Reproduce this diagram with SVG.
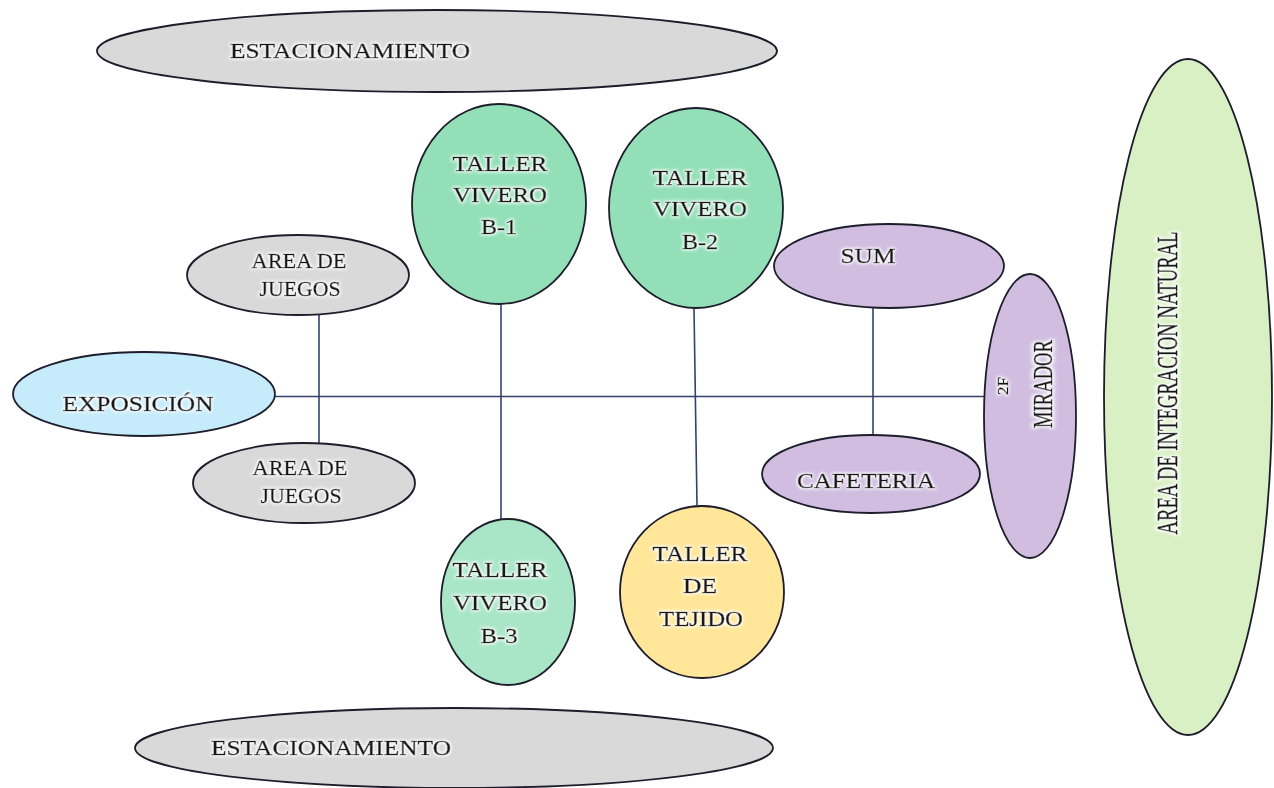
<svg xmlns="http://www.w3.org/2000/svg" width="1274" height="788" viewBox="0 0 1274 788">
<defs>
<style>
.n{stroke:#1d1d2b;stroke-width:1.8}
.gray{fill:#d9d9d9}
.blue{fill:#c6ebfa}
.green{fill:#93e0b8}
.green2{fill:#a9e6c8}
.yellow{fill:#ffe699}
.purple{fill:#d0bde0}
.lgreen{fill:#d8f0c4}
.t{font-family:"Liberation Serif","Times New Roman",serif;font-size:22px;fill:#161616;stroke:#161616;stroke-width:0.5;text-anchor:middle;filter:url(#glow)}
.r{font-size:19px}
.s{font-size:16px}
.c{stroke:#34416b;stroke-width:1.6;fill:none}
</style>
<filter id="glow" x="-20%" y="-30%" width="140%" height="160%">
<feMorphology in="SourceAlpha" operator="dilate" radius="1.2" result="d"/>
<feGaussianBlur in="d" stdDeviation="1.4" result="b"/>
<feFlood flood-color="#ffffff"/>
<feComposite in2="b" operator="in" result="g"/>
<feMerge><feMergeNode in="g"/><feMergeNode in="SourceGraphic"/></feMerge>
</filter>
</defs>
<rect width="1274" height="788" fill="#ffffff"/>
<g id="connectors">
<line class="c" x1="274" y1="396.5" x2="988" y2="396.5"/>
<line class="c" x1="319" y1="314" x2="319" y2="443"/>
<line class="c" x1="501" y1="304" x2="501" y2="519"/>
<line class="c" x1="694" y1="308" x2="697" y2="505"/>
<line class="c" x1="873" y1="308" x2="873" y2="436"/>
</g>
<g id="estacionamiento-top">
<ellipse class="n gray" cx="437" cy="51" rx="340" ry="41"/>
<text class="t" x="350" y="58" textLength="240" lengthAdjust="spacingAndGlyphs">ESTACIONAMIENTO</text>
</g>
<g id="estacionamiento-bottom">
<ellipse class="n gray" cx="454" cy="748" rx="319" ry="40"/>
<text class="t" x="331" y="755" textLength="240" lengthAdjust="spacingAndGlyphs">ESTACIONAMIENTO</text>
</g>
<g id="area-juegos-top">
<ellipse class="n gray" cx="298" cy="275" rx="111" ry="40"/>
<text class="t" x="299" y="268" textLength="95" lengthAdjust="spacingAndGlyphs">AREA DE</text>
<text class="t" x="300" y="296" textLength="81" lengthAdjust="spacingAndGlyphs">JUEGOS</text>
</g>
<g id="area-juegos-bottom">
<ellipse class="n gray" cx="304" cy="483" rx="111" ry="40"/>
<text class="t" x="300" y="475" textLength="95" lengthAdjust="spacingAndGlyphs">AREA DE</text>
<text class="t" x="301" y="503" textLength="81" lengthAdjust="spacingAndGlyphs">JUEGOS</text>
</g>
<g id="exposicion">
<ellipse class="n blue" cx="144" cy="394" rx="131" ry="42"/>
<text class="t" x="138" y="411" textLength="151" lengthAdjust="spacingAndGlyphs">EXPOSICIÓN</text>
</g>
<g id="taller-vivero-b1">
<ellipse class="n green" cx="499" cy="204" rx="87" ry="100"/>
<text class="t" x="500" y="171" textLength="95" lengthAdjust="spacingAndGlyphs">TALLER</text>
<text class="t" x="500" y="202" textLength="94" lengthAdjust="spacingAndGlyphs">VIVERO</text>
<text class="t" x="499" y="234" textLength="36" lengthAdjust="spacingAndGlyphs">B-1</text>
</g>
<g id="taller-vivero-b2">
<ellipse class="n green" cx="696" cy="208" rx="87" ry="100"/>
<text class="t" x="700" y="185" textLength="95" lengthAdjust="spacingAndGlyphs">TALLER</text>
<text class="t" x="700" y="216" textLength="94" lengthAdjust="spacingAndGlyphs">VIVERO</text>
<text class="t" x="700" y="249" textLength="36" lengthAdjust="spacingAndGlyphs">B-2</text>
</g>
<g id="taller-vivero-b3">
<ellipse class="n green2" cx="508" cy="602" rx="67" ry="83"/>
<text class="t" x="500" y="577" textLength="95" lengthAdjust="spacingAndGlyphs">TALLER</text>
<text class="t" x="500" y="610" textLength="94" lengthAdjust="spacingAndGlyphs">VIVERO</text>
<text class="t" x="499" y="643" textLength="37" lengthAdjust="spacingAndGlyphs">B-3</text>
</g>
<g id="taller-tejido">
<ellipse class="n yellow" cx="702" cy="592" rx="82" ry="86"/>
<text class="t" x="700" y="561" textLength="95" lengthAdjust="spacingAndGlyphs">TALLER</text>
<text class="t" x="700" y="593" textLength="34" lengthAdjust="spacingAndGlyphs">DE</text>
<text class="t" x="701" y="626" textLength="84" lengthAdjust="spacingAndGlyphs">TEJIDO</text>
</g>
<g id="sum">
<ellipse class="n purple" cx="889" cy="266" rx="115" ry="42"/>
<text class="t" x="868" y="263" textLength="55" lengthAdjust="spacingAndGlyphs">SUM</text>
</g>
<g id="cafeteria">
<ellipse class="n purple" cx="871" cy="474" rx="109" ry="39"/>
<text class="t" x="866" y="488" textLength="138" lengthAdjust="spacingAndGlyphs">CAFETERIA</text>
</g>
<g id="mirador">
<ellipse class="n purple" cx="1030" cy="416" rx="46" ry="142"/>
<text class="t r" transform="translate(1052,384) rotate(-90) scale(1,1.45)" x="0" y="0" textLength="88" lengthAdjust="spacingAndGlyphs">MIRADOR</text>
<text class="t s" transform="translate(1008,386) rotate(-90) scale(1,0.95)" x="0" y="0" textLength="18" lengthAdjust="spacingAndGlyphs">2F</text>
</g>
<g id="area-integracion-natural">
<ellipse class="n lgreen" cx="1188" cy="397" rx="84" ry="338"/>
<text class="t r" transform="translate(1177,383) rotate(-90) scale(1,1.5)" x="0" y="0" textLength="303" lengthAdjust="spacingAndGlyphs">AREA DE INTEGRACION NATURAL</text>
</g>
</svg>
